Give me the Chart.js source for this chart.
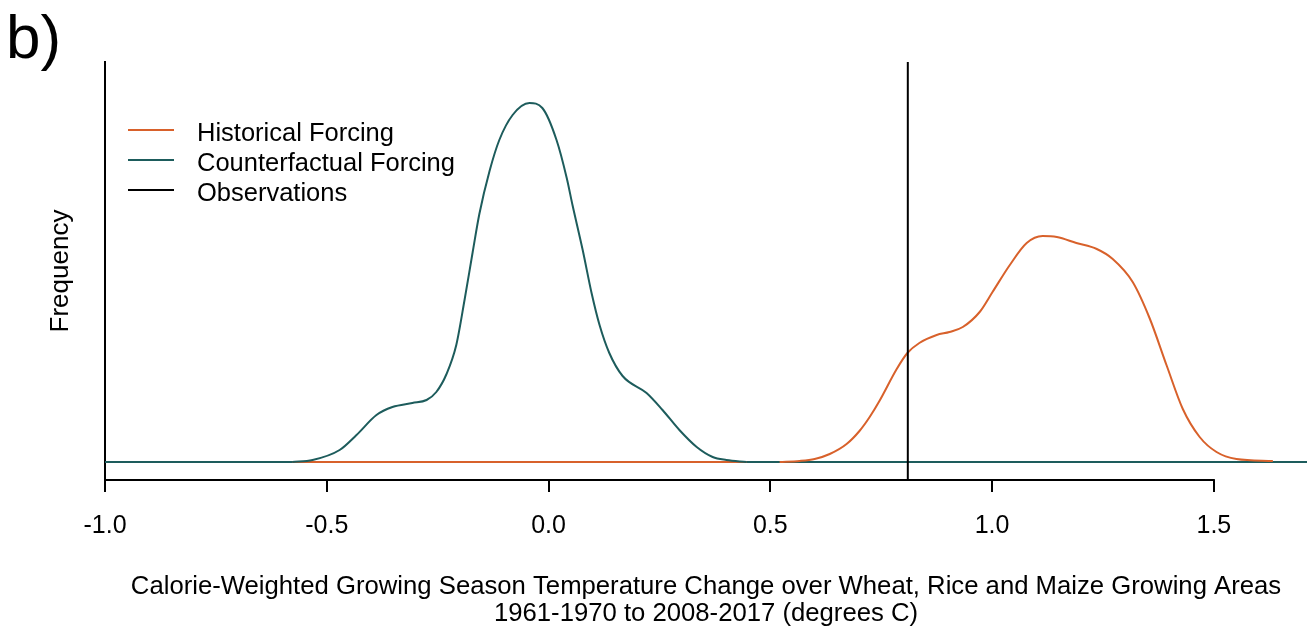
<!DOCTYPE html>
<html>
<head>
<meta charset="utf-8">
<script src="https://cdn.jsdelivr.net/npm/chart.js@4.4.0/dist/chart.umd.min.js"></script>
<style>
  html, body { margin: 0; padding: 0; background: #fff; }
  #wrap { width: 1308px; height: 630px; }
</style>
</head>
<body>
<div id="wrap"><canvas id="densityChart" width="1308" height="630"></canvas></div>
<script>
const xTicks = [-1.0, -0.5, 0.0, 0.5, 1.0, 1.5];
const xMin = -1.0, xMax = 1.71;
const yMin = -0.18, yMax = 4.0;

// density of the historical-forcing runs
const histX = [0.521, 0.566, 0.600, 0.634, 0.672, 0.701, 0.724, 0.746, 0.785, 0.809, 0.836, 0.875, 0.904, 0.934, 0.972,
               1.001, 1.040, 1.078, 1.114, 1.146, 1.190, 1.236, 1.272, 1.317, 1.355, 1.394, 1.430, 1.468, 1.506, 1.551, 1.633];
const histY = [0, 0.01, 0.03, 0.08, 0.18, 0.31, 0.45, 0.61, 0.93, 1.09, 1.19, 1.27, 1.30, 1.35, 1.50,
               1.70, 1.97, 2.19, 2.26, 2.25, 2.19, 2.13, 2.03, 1.80, 1.44, 0.96, 0.53, 0.25, 0.10, 0.03, 0.01];

// density of the counterfactual-forcing runs
const cfX = [-0.578, -0.532, -0.471, -0.433, -0.388, -0.352, -0.307, -0.275, -0.253, -0.230, -0.208, -0.189, -0.171,
             -0.156, -0.133, -0.111, -0.081, -0.043, -0.014, 0.018, 0.041, 0.054, 0.077, 0.097, 0.115, 0.137, 0.167,
             0.221, 0.257, 0.295, 0.334, 0.370, 0.401, 0.446];
const cfY = [0, 0.02, 0.12, 0.27, 0.47, 0.55, 0.59, 0.62, 0.70, 0.88, 1.17, 1.63, 2.10,
             2.48, 2.91, 3.22, 3.47, 3.59, 3.54, 3.22, 2.84, 2.57, 2.12, 1.69, 1.37, 1.09, 0.86,
             0.69, 0.52, 0.32, 0.15, 0.05, 0.02, 0];

const observed = 0.81;

// flat zero stretches under the curves
const cfZeroX = [-1.0, 1.71];
const histZeroX = [-0.578, 0.446];

const seriesNames = ['Historical Forcing', 'Counterfactual Forcing', 'Observations'];
const seriesColors = ['#d8612b', '#1d5c5c', '#000000'];

const FONT = '"Liberation Sans", Arial, sans-serif';

const toPoints = (xs, ys) => xs.map((x, i) => ({ x: x, y: ys[i] }));
const zeroLine = xs => xs.map(x => ({ x: x, y: 0 }));

const extras = {
    id: 'extras',
    afterDraw(chart) {
        const ctx = chart.ctx;
        const xs = chart.scales.x;
        const y0 = chart.chartArea.bottom;
        ctx.save();

        // x axis line only spans the ticks
        ctx.strokeStyle = '#000';
        ctx.lineWidth = 2;
        ctx.beginPath();
        ctx.moveTo(xs.getPixelForValue(xTicks[0]) - 1, y0);
        ctx.lineTo(xs.getPixelForValue(xTicks[xTicks.length - 1]) + 1, y0);
        ctx.stroke();

        // legend
        ctx.font = '25.5px ' + FONT;
        ctx.textBaseline = 'alphabetic';
        ctx.fillStyle = '#000';
        seriesNames.forEach((name, i) => {
            const ly = 130 + i * 30;
            ctx.strokeStyle = seriesColors[i];
            ctx.beginPath();
            ctx.moveTo(128, ly);
            ctx.lineTo(174, ly);
            ctx.stroke();
            ctx.fillText(name, 197, ly + 11);
        });

        // panel letter
        ctx.font = '62px ' + FONT;
        ctx.fillText('b)', 6, 58);
        ctx.restore();
    }
};

const ctx = document.getElementById('densityChart').getContext('2d');
new Chart(ctx, {
    type: 'line',
    data: {
        datasets: [
            { label: 'Observations', data: [{ x: observed, y: yMin }, { x: observed, y: yMax }],
              borderColor: seriesColors[2], borderWidth: 2, pointRadius: 0 },
            { label: 'Historical Forcing', data: toPoints(histX, histY),
              borderColor: seriesColors[0], borderWidth: 2, pointRadius: 0, cubicInterpolationMode: 'monotone' },
            { label: 'Counterfactual Forcing', data: toPoints(cfX, cfY),
              borderColor: seriesColors[1], borderWidth: 2, pointRadius: 0, cubicInterpolationMode: 'monotone' },
            { label: 'hist zero', data: zeroLine(histZeroX),
              borderColor: seriesColors[0], borderWidth: 2, pointRadius: 0 },
            { label: 'cf zero', data: zeroLine(cfZeroX),
              borderColor: seriesColors[1], borderWidth: 2, pointRadius: 0 }
        ]
    },
    options: {
        responsive: false,
        devicePixelRatio: 1,
        animation: false,
        events: [],
        layout: { padding: { top: 62, right: 1, bottom: 0, left: 0 } },
        plugins: { legend: { display: false }, tooltip: { enabled: false } },
        scales: {
            x: {
                type: 'linear',
                min: xMin,
                max: xMax,
                afterBuildTicks: scale => { scale.ticks = xTicks.map(v => ({ value: v })); },
                afterFit: scale => { scale.height = 150; },
                grid: { display: true, drawOnChartArea: false, drawTicks: true, tickLength: 12, color: '#000', lineWidth: 2 },
                border: { display: false },
                ticks: {
                    color: '#000', padding: 19, maxRotation: 0, autoSkip: false,
                    font: { family: FONT, size: 25 },
                    callback: v => v.toFixed(1)
                },
                title: {
                    display: true, color: '#000',
                    text: ['Calorie-Weighted Growing Season Temperature Change over Wheat, Rice and Maize Growing Areas',
                           '1961-1970 to 2008-2017 (degrees C)'],
                    font: { family: FONT, size: 25.7, lineHeight: 1.05 },
                    padding: { top: 0, bottom: 3 }
                }
            },
            y: {
                min: yMin,
                max: yMax,
                afterFit: scale => { scale.width = 105; },
                grid: { display: false },
                border: { display: true, color: '#000', width: 2 },
                ticks: { display: false },
                title: {
                    display: true, text: 'Frequency', color: '#000',
                    font: { family: FONT, size: 26 },
                    padding: { top: 45, bottom: 0 }
                }
            }
        }
    },
    plugins: [extras]
});
</script>
</body>
</html>
